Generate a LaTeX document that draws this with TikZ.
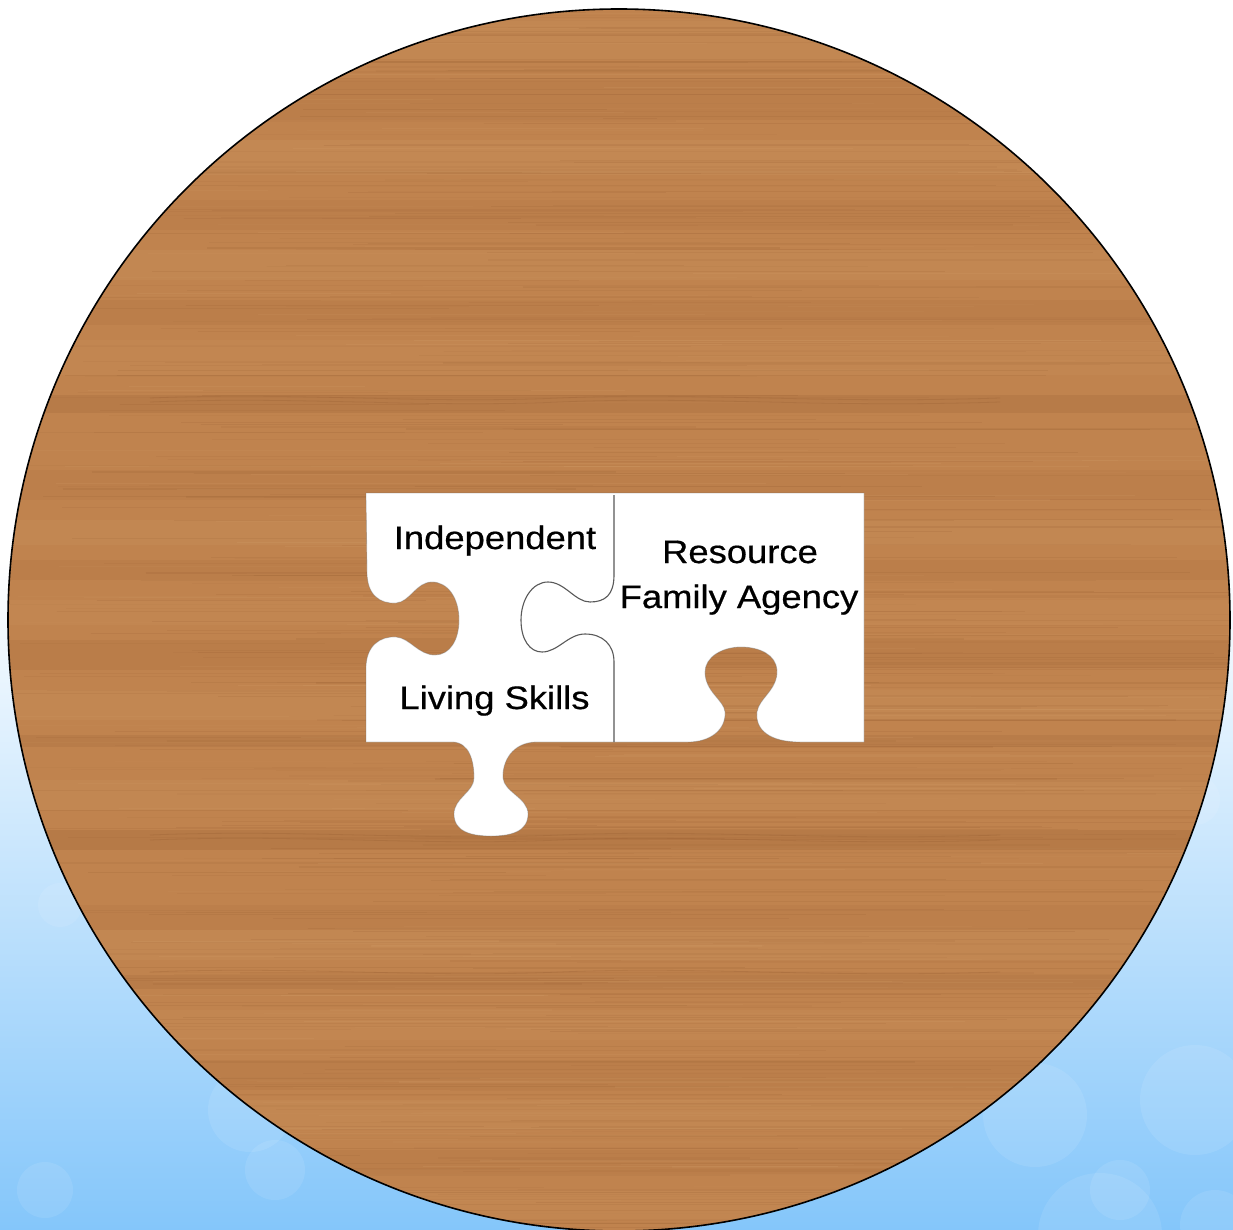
\documentclass[tikz,border=0pt]{standalone}
\usepackage{fontspec}
\setmainfont[FakeBold=0.5]{Liberation Sans}
\definecolor{woodbase}{RGB}{192,131,78}
\definecolor{wooddark}{RGB}{145,88,45}
\definecolor{woodlight}{RGB}{216,165,112}
\definecolor{skyblue}{RGB}{132,198,250}
\definecolor{skymid}{RGB}{205,232,253}
\tikzset{
  lbl/.style={anchor=base, inner sep=0pt, font=\fontsize{32.5}{36}\selectfont},
  bokeh/.style={fill=white, opacity=0.09},
  seam/.style={draw=black!65, line width=1.1pt},
}
\begin{document}
\begin{tikzpicture}[x=1pt,y=-1pt]
\useasboundingbox (0,0) rectangle (1233,1230);
% background
\fill[white] (0,0) rectangle (1233,560);
\shade[top color=white, middle color=skymid, bottom color=skyblue] (0,559) rectangle (1233,1230);
\foreach \cx/\cy/\r in {1100/1235/62,1035/1115/52,1195/1100/55,1120/1190/30,1215/1225/35,250/1110/42,275/1170/30,45/1190/28,60/905/22,170/690/18,1195/800/25}{
  \fill[bokeh] (\cx,\cy) circle (\r);
}
% wood table
\begin{scope}
  \clip (619,620) circle (611);
  \fill[woodbase] (0,0) rectangle (1233,1233);
  \foreach \yy/\h/\op in {80/40/0.10,200/30/0.08,300/25/0.10,395/18/0.18,470/30/0.08,560/20/0.10,640/30/0.12,735/12/0.15,830/20/0.20,905/25/0.08,975/14/0.15,1060/30/0.10,1150/25/0.10}{
    \fill[wooddark, opacity=\op] (0,\yy) rectangle (1233,\yy+\h);
  }
  \foreach \yy/\h/\op in {20/40/0.12,140/35/0.15,250/30/0.12,340/35/0.10,520/25/0.12,600/25/0.10,690/30/0.12,780/30/0.12,930/30/0.12,1010/30/0.10,1100/30/0.12,1190/30/0.10}{
    \fill[woodlight, opacity=\op] (0,\yy) rectangle (1233,\yy+\h);
  }
  \pgfmathsetseed{17}
  \foreach \i in {1,...,450}{
    \pgfmathsetmacro\yy{rnd*1233}
    \pgfmathsetmacro\op{0.04+0.12*rnd}
    \pgfmathsetmacro\lw{0.4+1.2*rnd}
    \pgfmathsetmacro\xa{rnd*600}
    \pgfmathsetmacro\xb{\xa+300+rnd*700}
    \draw[wooddark, opacity=\op, line width=\lw] (\xa,\yy) -- (\xb,\yy);
  }
  \foreach \i in {1,...,200}{
    \pgfmathsetmacro\yy{rnd*1233}
    \pgfmathsetmacro\op{0.05+0.12*rnd}
    \pgfmathsetmacro\lw{0.4+1.0*rnd}
    \pgfmathsetmacro\xa{rnd*700}
    \pgfmathsetmacro\xb{\xa+200+rnd*600}
    \draw[woodlight, opacity=\op, line width=\lw] (\xa,\yy) -- (\xb,\yy);
  }
  % a few wavy grain figures
  \foreach \yy in {398,402,835,840,972}{
    \draw[wooddark, opacity=0.25, line width=0.8pt] (150,\yy) .. controls (300,\yy-6) and (420,\yy+6) .. (560,\yy) .. controls (700,\yy-6) and (820,\yy+6) .. (1000,\yy);
  }
\end{scope}
\draw[black, line width=1.6pt] (619,620) circle (611);
% puzzle union
\path[fill=white, draw=black!60, draw opacity=0.35, line width=0.8pt]
  (366,493) -- (864,493) -- (864,742) -- (800,742)
  .. controls (770,742) and (755,730) .. (757,712)
  .. controls (759,698) and (778,690) .. (777,670)
  .. controls (776,655) and (760,647) .. (741,647)
  .. controls (722,647) and (705,657) .. (705,672)
  .. controls (705,692) and (724,700) .. (725,712)
  .. controls (726,730) and (710,742) .. (688,742)
  -- (537,742)
  .. controls (512,742) and (502,762) .. (503,778)
  .. controls (504,792) and (528,798) .. (528,814)
  .. controls (528,832) and (510,836) .. (491,836)
  .. controls (472,836) and (454,832) .. (454,814)
  .. controls (454,798) and (474,792) .. (474,778)
  .. controls (474,762) and (470,742) .. (452,742)
  -- (366,742) -- (366,668)
  .. controls (366,646) and (380,636) .. (396,637)
  .. controls (410,638) and (418,655) .. (435,655)
  .. controls (450,655) and (459,640) .. (459,620)
  .. controls (459,598) and (448,582) .. (432,582)
  .. controls (416,582) and (410,602) .. (396,603)
  .. controls (380,604) and (367,595) .. (367,572)
  -- cycle;
% seam between pieces
\draw[seam] (614,495) -- (614,575)
  .. controls (614,595) and (605,602) .. (590,602)
  .. controls (575,602) and (565,582) .. (548,582)
  .. controls (532,582) and (521,600) .. (521,620)
  .. controls (521,640) and (530,652) .. (542,652)
  .. controls (558,652) and (568,634) .. (585,634)
  .. controls (603,634) and (614,645) .. (614,662)
  -- (614,742);
% labels
\node[lbl] (ind) at (495,549) {\scalebox{1.12}[1]{Independent}};
\node[lbl] (liv) at (494.5,709) {\scalebox{1.12}[1]{Living Skills}};
\node[lbl] (res) at (740,563) {\scalebox{1.12}[1]{Resource}};
\node[lbl] (fam) at (739,608) {\scalebox{1.12}[1]{Family Agency}};
\end{tikzpicture}
\end{document}
